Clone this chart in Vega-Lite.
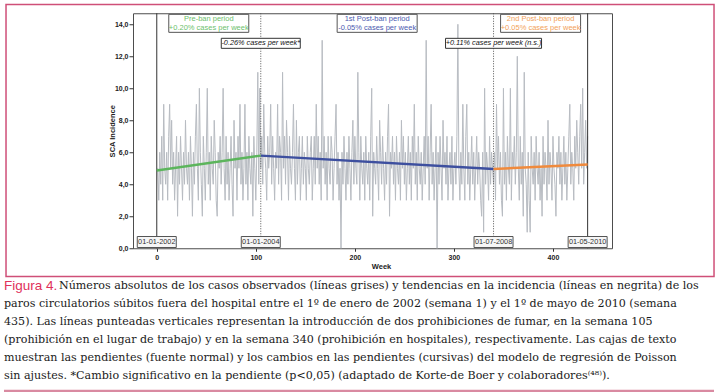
{
  "$schema": "https://vega.github.io/schema/vega-lite/v6.json",
  "background": "white",
  "padding": {"left": 2, "top": 3.25, "right": 0, "bottom": 0},
  "spacing": 0,
  "config": {
    "locale": {"number": {"decimal": ",", "thousands": ".", "grouping": [3], "currency": ["", " €"]}},
    "font": "Liberation Sans",
    "view": {"stroke": null},
    "axis": {"labelOverlap": false, "labelFlush": false}
  },
  "datasets": {
    "weekly": [
{"week":1,"cases":5},{"week":2,"cases":3},{"week":3,"cases":6},{"week":4,"cases":4},{"week":5,"cases":7},{"week":6,"cases":3},{"week":7,"cases":9},{"week":8,"cases":5},{"week":9,"cases":4},{"week":10,"cases":6},
{"week":11,"cases":3},{"week":12,"cases":7},{"week":13,"cases":9},{"week":14,"cases":5},{"week":15,"cases":8},{"week":16,"cases":4},{"week":17,"cases":6},{"week":18,"cases":3},{"week":19,"cases":5},{"week":20,"cases":7},
{"week":21,"cases":2},{"week":22,"cases":6},{"week":23,"cases":4},{"week":24,"cases":7},{"week":25,"cases":5},{"week":26,"cases":3},{"week":27,"cases":6},{"week":28,"cases":4},{"week":29,"cases":8},{"week":30,"cases":5},
{"week":31,"cases":4},{"week":32,"cases":6},{"week":33,"cases":3},{"week":34,"cases":7},{"week":35,"cases":5},{"week":36,"cases":2},{"week":37,"cases":6},{"week":38,"cases":4},{"week":39,"cases":7},{"week":40,"cases":9},
{"week":41,"cases":5},{"week":42,"cases":3},{"week":43,"cases":10},{"week":44,"cases":6},{"week":45,"cases":4},{"week":46,"cases":2},{"week":47,"cases":7},{"week":48,"cases":5},{"week":49,"cases":3},{"week":50,"cases":6},
{"week":51,"cases":10},{"week":52,"cases":4},{"week":53,"cases":6},{"week":54,"cases":3},{"week":55,"cases":7},{"week":56,"cases":5},{"week":57,"cases":4},{"week":58,"cases":8},{"week":59,"cases":6},{"week":60,"cases":3},
{"week":61,"cases":2},{"week":62,"cases":6},{"week":63,"cases":5},{"week":64,"cases":7},{"week":65,"cases":4},{"week":66,"cases":6},{"week":67,"cases":10},{"week":68,"cases":5},{"week":69,"cases":3},{"week":70,"cases":7},
{"week":71,"cases":4},{"week":72,"cases":6},{"week":73,"cases":3},{"week":74,"cases":5},{"week":75,"cases":7},{"week":76,"cases":4},{"week":77,"cases":2},{"week":78,"cases":8},{"week":79,"cases":5},{"week":80,"cases":6},
{"week":81,"cases":3},{"week":82,"cases":7},{"week":83,"cases":5},{"week":84,"cases":9},{"week":85,"cases":4},{"week":86,"cases":6},{"week":87,"cases":3},{"week":88,"cases":5},{"week":89,"cases":9},{"week":90,"cases":4},
{"week":91,"cases":6},{"week":92,"cases":3},{"week":93,"cases":7},{"week":94,"cases":5},{"week":95,"cases":4},{"week":96,"cases":6},{"week":97,"cases":2},{"week":98,"cases":7},{"week":99,"cases":5},{"week":100,"cases":3},
{"week":101,"cases":6},{"week":102,"cases":11},{"week":103,"cases":4},{"week":104,"cases":10},{"week":105,"cases":5},{"week":106,"cases":7},{"week":107,"cases":4},{"week":108,"cases":9},{"week":109,"cases":6},{"week":110,"cases":5},
{"week":111,"cases":3},{"week":112,"cases":7},{"week":113,"cases":5},{"week":114,"cases":6},{"week":115,"cases":9},{"week":116,"cases":4},{"week":117,"cases":7},{"week":118,"cases":5},{"week":119,"cases":3},{"week":120,"cases":6},
{"week":121,"cases":5},{"week":122,"cases":9},{"week":123,"cases":4},{"week":124,"cases":7},{"week":125,"cases":6},{"week":126,"cases":3},{"week":127,"cases":11},{"week":128,"cases":5},{"week":129,"cases":7},{"week":130,"cases":4},
{"week":131,"cases":8},{"week":132,"cases":6},{"week":133,"cases":3},{"week":134,"cases":7},{"week":135,"cases":5},{"week":136,"cases":4},{"week":137,"cases":6},{"week":138,"cases":9},{"week":139,"cases":5},{"week":140,"cases":3},
{"week":141,"cases":8},{"week":142,"cases":4},{"week":143,"cases":6},{"week":144,"cases":7},{"week":145,"cases":3},{"week":146,"cases":5},{"week":147,"cases":7},{"week":148,"cases":4},{"week":149,"cases":6},{"week":150,"cases":5},
{"week":151,"cases":3},{"week":152,"cases":7},{"week":153,"cases":5},{"week":154,"cases":4},{"week":155,"cases":6},{"week":156,"cases":7},{"week":157,"cases":3},{"week":158,"cases":5},{"week":159,"cases":7},{"week":160,"cases":4},
{"week":161,"cases":9},{"week":162,"cases":5},{"week":163,"cases":7},{"week":164,"cases":4},{"week":165,"cases":6},{"week":166,"cases":3},{"week":167,"cases":13},{"week":168,"cases":5},{"week":169,"cases":7},{"week":170,"cases":4},
{"week":171,"cases":6},{"week":172,"cases":3},{"week":173,"cases":7},{"week":174,"cases":5},{"week":175,"cases":4},{"week":176,"cases":7},{"week":177,"cases":6},{"week":178,"cases":3},{"week":179,"cases":5},{"week":180,"cases":7},
{"week":181,"cases":9},{"week":182,"cases":4},{"week":183,"cases":6},{"week":184,"cases":3},{"week":185,"cases":5},{"week":186,"cases":0},{"week":187,"cases":6},{"week":188,"cases":4},{"week":189,"cases":7},{"week":190,"cases":5},
{"week":191,"cases":3},{"week":192,"cases":6},{"week":193,"cases":4},{"week":194,"cases":7},{"week":195,"cases":5},{"week":196,"cases":3},{"week":197,"cases":6},{"week":198,"cases":8},{"week":199,"cases":4},{"week":200,"cases":7},
{"week":201,"cases":5},{"week":202,"cases":4},{"week":203,"cases":11},{"week":204,"cases":6},{"week":205,"cases":3},{"week":206,"cases":7},{"week":207,"cases":5},{"week":208,"cases":4},{"week":209,"cases":6},{"week":210,"cases":3},
{"week":211,"cases":7},{"week":212,"cases":5},{"week":213,"cases":4},{"week":214,"cases":6},{"week":215,"cases":3},{"week":216,"cases":7},{"week":217,"cases":10},{"week":218,"cases":2},{"week":219,"cases":6},{"week":220,"cases":5},
{"week":221,"cases":4},{"week":222,"cases":7},{"week":223,"cases":5},{"week":224,"cases":3},{"week":225,"cases":8},{"week":226,"cases":6},{"week":227,"cases":4},{"week":228,"cases":7},{"week":229,"cases":5},{"week":230,"cases":3},
{"week":231,"cases":6},{"week":232,"cases":4},{"week":233,"cases":7},{"week":234,"cases":9},{"week":235,"cases":2},{"week":236,"cases":6},{"week":237,"cases":5},{"week":238,"cases":7},{"week":239,"cases":4},{"week":240,"cases":6},
{"week":241,"cases":3},{"week":242,"cases":7},{"week":243,"cases":5},{"week":244,"cases":4},{"week":245,"cases":6},{"week":246,"cases":3},{"week":247,"cases":8},{"week":248,"cases":5},{"week":249,"cases":7},{"week":250,"cases":4},
{"week":251,"cases":6},{"week":252,"cases":3},{"week":253,"cases":5},{"week":254,"cases":7},{"week":255,"cases":4},{"week":256,"cases":6},{"week":257,"cases":3},{"week":258,"cases":7},{"week":259,"cases":5},{"week":260,"cases":9},
{"week":261,"cases":4},{"week":262,"cases":6},{"week":263,"cases":3},{"week":264,"cases":7},{"week":265,"cases":5},{"week":266,"cases":4},{"week":267,"cases":6},{"week":268,"cases":3},{"week":269,"cases":5},{"week":270,"cases":7},
{"week":271,"cases":4},{"week":272,"cases":13},{"week":273,"cases":5},{"week":274,"cases":7},{"week":275,"cases":3},{"week":276,"cases":6},{"week":277,"cases":9},{"week":278,"cases":4},{"week":279,"cases":6},{"week":280,"cases":3},
{"week":281,"cases":5},{"week":282,"cases":7},{"week":283,"cases":0},{"week":284,"cases":6},{"week":285,"cases":4},{"week":286,"cases":7},{"week":287,"cases":5},{"week":288,"cases":3},{"week":289,"cases":8},{"week":290,"cases":5},
{"week":291,"cases":6},{"week":292,"cases":4},{"week":293,"cases":7},{"week":294,"cases":3},{"week":295,"cases":5},{"week":296,"cases":6},{"week":297,"cases":4},{"week":298,"cases":7},{"week":299,"cases":3},{"week":300,"cases":5},
{"week":301,"cases":6},{"week":302,"cases":4},{"week":303,"cases":7},{"week":304,"cases":14},{"week":305,"cases":5},{"week":306,"cases":3},{"week":307,"cases":6},{"week":308,"cases":4},{"week":309,"cases":9},{"week":310,"cases":5},
{"week":311,"cases":3},{"week":312,"cases":7},{"week":313,"cases":9},{"week":314,"cases":4},{"week":315,"cases":6},{"week":316,"cases":3},{"week":317,"cases":5},{"week":318,"cases":7},{"week":319,"cases":4},{"week":320,"cases":6},
{"week":321,"cases":3},{"week":322,"cases":5},{"week":323,"cases":7},{"week":324,"cases":4},{"week":325,"cases":6},{"week":326,"cases":5},{"week":327,"cases":3},{"week":328,"cases":2},{"week":329,"cases":6},{"week":330,"cases":1},
{"week":331,"cases":10},{"week":332,"cases":4},{"week":333,"cases":6},{"week":334,"cases":5},{"week":335,"cases":3},{"week":336,"cases":7},{"week":337,"cases":4},{"week":338,"cases":6},{"week":339,"cases":5},{"week":340,"cases":4},
{"week":341,"cases":6},{"week":342,"cases":3},{"week":343,"cases":9},{"week":344,"cases":5},{"week":345,"cases":7},{"week":346,"cases":4},{"week":347,"cases":6},{"week":348,"cases":3},{"week":349,"cases":2},{"week":350,"cases":10},
{"week":351,"cases":4},{"week":352,"cases":6},{"week":353,"cases":3},{"week":354,"cases":7},{"week":355,"cases":5},{"week":356,"cases":4},{"week":357,"cases":10},{"week":358,"cases":3},{"week":359,"cases":6},{"week":360,"cases":5},
{"week":361,"cases":7},{"week":362,"cases":4},{"week":363,"cases":6},{"week":364,"cases":12},{"week":365,"cases":5},{"week":366,"cases":3},{"week":367,"cases":7},{"week":368,"cases":4},{"week":369,"cases":6},{"week":370,"cases":2},
{"week":371,"cases":11},{"week":372,"cases":5},{"week":373,"cases":4},{"week":374,"cases":1},{"week":375,"cases":6},{"week":376,"cases":3},{"week":377,"cases":1},{"week":378,"cases":7},{"week":379,"cases":5},{"week":380,"cases":4},
{"week":381,"cases":6},{"week":382,"cases":3},{"week":383,"cases":7},{"week":384,"cases":5},{"week":385,"cases":4},{"week":386,"cases":6},{"week":387,"cases":3},{"week":388,"cases":5},{"week":389,"cases":2},{"week":390,"cases":7},
{"week":391,"cases":4},{"week":392,"cases":6},{"week":393,"cases":5},{"week":394,"cases":3},{"week":395,"cases":8},{"week":396,"cases":4},{"week":397,"cases":6},{"week":398,"cases":5},{"week":399,"cases":3},{"week":400,"cases":7},
{"week":401,"cases":5},{"week":402,"cases":4},{"week":403,"cases":2},{"week":404,"cases":6},{"week":405,"cases":5},{"week":406,"cases":7},{"week":407,"cases":4},{"week":408,"cases":6},{"week":409,"cases":3},{"week":410,"cases":5},
{"week":411,"cases":7},{"week":412,"cases":4},{"week":413,"cases":6},{"week":414,"cases":3},{"week":415,"cases":5},{"week":416,"cases":7},{"week":417,"cases":9},{"week":418,"cases":4},{"week":419,"cases":6},{"week":420,"cases":5},
{"week":421,"cases":3},{"week":422,"cases":7},{"week":423,"cases":5},{"week":424,"cases":8},{"week":425,"cases":6},{"week":426,"cases":4},{"week":427,"cases":7},{"week":428,"cases":9},{"week":429,"cases":5},{"week":430,"cases":10},
{"week":431,"cases":4},{"week":432,"cases":6},{"week":433,"cases":8},{"week":434,"cases":5},{"week":435,"cases":7}
    ],
    "trend": [
      {"period": "Pre-ban", "week": 0, "rate": 4.86},
      {"period": "Pre-ban", "week": 105, "rate": 5.79},
      {"period": "1st post-ban", "week": 105, "rate": 5.79},
      {"period": "1st post-ban", "week": 340, "rate": 4.96},
      {"period": "2nd post-ban", "week": 340, "rate": 4.96},
      {"period": "2nd post-ban", "week": 435, "rate": 5.23}
    ],
    "periods": [
      {"period": "Pre-ban", "title": "Pre-ban period", "slope": "+0.20% cases per week", "mid": 52.5},
      {"period": "1st post-ban", "title": "1st Post-ban period", "slope": "-0.05% cases per week", "mid": 222.5},
      {"period": "2nd post-ban", "title": "2nd Post-ban period", "slope": "+0.05% cases per week", "mid": 387.5}
    ],
    "events": [
      {"week": 0, "date": "01-01-2002", "kind": "boundary"},
      {"week": 105, "date": "01-01-2004", "kind": "ban"},
      {"week": 340, "date": "01-07-2008", "kind": "ban"},
      {"week": 435, "date": "01-05-2010", "kind": "boundary"}
    ],
    "changes": [
      {"week": 105, "label": "-0.26% cases per week*"},
      {"week": 340, "label": "+0.11% cases per week (n.s.)"}
    ],
    "caption": [
      {"line": 1, "part": "label", "text": "Figura 4."},
      {"line": 1, "part": "first", "text": "Números absolutos de los casos observados (líneas grises) y tendencias en la incidencia (líneas en negrita) de los"},
      {"line": 2, "part": "body", "text": "paros circulatorios súbitos fuera del hospital entre el 1º de enero de 2002 (semana 1) y el 1º de mayo de 2010 (semana"},
      {"line": 3, "part": "body", "text": "435). Las líneas punteadas verticales representan la introducción de dos prohibiciones de fumar, en la semana 105"},
      {"line": 4, "part": "body", "text": "(prohibición en el lugar de trabajo) y en la semana 340 (prohibición en hospitales), respectivamente. Las cajas de texto"},
      {"line": 5, "part": "body", "text": "muestran las pendientes (fuente normal) y los cambios en las pendientes (cursivas) del modelo de regresión de Poisson"},
      {"line": 6, "part": "body", "text": "sin ajustes. *Cambio significativo en la pendiente (p<0,05) (adaptado de Korte-de Boer y colaboradores⁽⁴⁸⁾)."}
    ],
    "one": [{}]
  },
  "vconcat": [
    {
      "width": 479,
      "height": 235,
      "view": {"stroke": "#4d4d4d", "strokeWidth": 1},
      "resolve": {"axis": {"x": "independent", "y": "independent"}},
      "layer": [
        {
          "data": {"name": "weekly"},
          "mark": {"type": "line", "color": "#b8bcc2", "strokeWidth": 1},
          "encoding": {
            "x": {"field": "week", "type": "quantitative",
              "scale": {"domain": [-24, 459.6], "nice": false, "zero": false},
              "axis": {"values": [0, 100, 200, 300, 400], "title": "Week", "titleX": 248, "grid": false, "domain": false,
                "tickSize": 3, "tickColor": "#333", "labelFontSize": 7, "labelFontWeight": "bold", "labelColor": "#222",
                "labelPadding": 2, "titleFontSize": 7.5, "titleFontWeight": "bold", "titleColor": "#222", "titlePadding": 2}},
            "y": {"field": "cases", "type": "quantitative",
              "scale": {"domain": [0, 14.69], "nice": false, "zero": false},
              "axis": {"values": [0, 2, 4, 6, 8, 10, 12, 14], "format": ".1f", "title": "SCA Incidence", "grid": false, "domain": false,
                "labelOverlap": false,
                "tickSize": 4, "tickColor": "#333", "labelFontSize": 7, "labelFontWeight": "bold", "labelColor": "#222",
                "labelPadding": 1, "titleFontSize": 7.5, "titleFontWeight": "bold", "titleColor": "#222", "titlePadding": -2}}
          }
        },
        {
          "data": {"name": "one"},
          "mark": {"type": "rect", "filled": false, "color": "#cf4f78", "strokeWidth": 1.5},
          "encoding": {
            "x": {"datum": -152.2, "type": "quantitative", "axis": null},
            "x2": {"datum": 562.6},
            "y": {"datum": 15.23, "type": "quantitative", "axis": null},
            "y2": {"datum": -1.77}
          }
        },
        {
          "data": {"name": "events"},
          "transform": [{"filter": "datum.kind == 'boundary'"}],
          "mark": {"type": "rule", "color": "#333333", "strokeWidth": 1},
          "encoding": {"x": {"field": "week", "type": "quantitative", "axis": null}}
        },
        {
          "data": {"name": "events"},
          "transform": [{"filter": "datum.kind == 'ban'"}],
          "mark": {"type": "rule", "color": "#555555", "strokeWidth": 1, "strokeDash": [1, 1.5]},
          "encoding": {"x": {"field": "week", "type": "quantitative", "axis": null}}
        },
        {
          "data": {"name": "trend"},
          "mark": {"type": "line", "strokeWidth": 2.5},
          "encoding": {
            "x": {"field": "week", "type": "quantitative", "axis": null},
            "y": {"field": "rate", "type": "quantitative", "axis": null},
            "stroke": {"field": "period", "type": "nominal",
              "scale": {"domain": ["Pre-ban", "1st post-ban", "2nd post-ban"], "range": ["#5cb55c", "#3d4f9f", "#f08a3c"]},
              "legend": null}
          }
        },
        {
          "data": {"name": "periods"},
          "mark": {"type": "point", "shape": "M-1,-0.225H1V0.225H-1Z", "size": 6400, "filled": true, "fill": "#ffffff", "stroke": "#555555", "strokeWidth": 1, "opacity": 1},
          "encoding": {
            "x": {"field": "mid", "type": "quantitative", "axis": null},
            "y": {"datum": 14.06, "type": "quantitative", "axis": null}
          }
        },
        {
          "data": {"name": "periods"},
          "mark": {"type": "text", "fontSize": 7.5, "baseline": "middle", "dy": -4.5},
          "encoding": {
            "x": {"field": "mid", "type": "quantitative", "axis": null},
            "y": {"datum": 14.06, "type": "quantitative", "axis": null},
            "text": {"field": "title"},
            "fill": {"field": "period", "type": "nominal",
              "scale": {"domain": ["Pre-ban", "1st post-ban", "2nd post-ban"], "range": ["#6dbf6d", "#4b5ab0", "#f2a25a"]},
              "legend": null}
          }
        },
        {
          "data": {"name": "periods"},
          "mark": {"type": "text", "fontSize": 7.5, "baseline": "middle", "dy": 4.5},
          "encoding": {
            "x": {"field": "mid", "type": "quantitative", "axis": null},
            "y": {"datum": 14.06, "type": "quantitative", "axis": null},
            "text": {"field": "slope"},
            "fill": {"field": "period", "type": "nominal", "legend": null}
          }
        },
        {
          "data": {"name": "changes"},
          "transform": [{"filter": "datum.week == 105"}],
          "mark": {"type": "point", "shape": "M-1,-0.127H1V0.127H-1Z", "size": 6241, "filled": true, "fill": "#ffffff", "stroke": "#333333", "strokeWidth": 1, "opacity": 1},
          "encoding": {
            "x": {"field": "week", "type": "quantitative", "axis": null},
            "y": {"datum": 12.81, "type": "quantitative", "axis": null}
          }
        },
        {
          "data": {"name": "changes"},
          "transform": [{"filter": "datum.week == 340"}],
          "mark": {"type": "point", "shape": "M-1,-0.104H1V0.104H-1Z", "size": 9216, "filled": true, "fill": "#ffffff", "stroke": "#333333", "strokeWidth": 1, "opacity": 1},
          "encoding": {
            "x": {"field": "week", "type": "quantitative", "axis": null},
            "y": {"datum": 12.81, "type": "quantitative", "axis": null}
          }
        },
        {
          "data": {"name": "changes"},
          "mark": {"type": "text", "fontSize": 7.3, "fontStyle": "italic", "baseline": "middle", "color": "#111111"},
          "encoding": {
            "x": {"field": "week", "type": "quantitative", "axis": null},
            "y": {"datum": 12.81, "type": "quantitative", "axis": null},
            "text": {"field": "label"}
          }
        },
        {
          "data": {"name": "events"},
          "mark": {"type": "point", "shape": "M-1,-0.282H1V0.282H-1Z", "size": 1521, "filled": true, "fill": "#f6f6f6", "stroke": "#555555", "strokeWidth": 1, "opacity": 1},
          "encoding": {
            "x": {"field": "week", "type": "quantitative", "axis": null},
            "y": {"datum": 0.39, "type": "quantitative", "axis": null}
          }
        },
        {
          "data": {"name": "events"},
          "mark": {"type": "text", "fontSize": 7.3, "baseline": "middle", "color": "#333333"},
          "encoding": {
            "x": {"field": "week", "type": "quantitative", "axis": null},
            "y": {"datum": 0.39, "type": "quantitative", "axis": null},
            "text": {"field": "date"}
          }
        }
      ]
    },
    {
      "width": 581,
      "height": 115.2,
      "view": {"stroke": null},
      "layer": [
        {
          "data": {"name": "one"},
          "mark": {"type": "rule", "color": "#d98aa1", "strokeWidth": 3},
          "encoding": {
            "x": {"datum": 0, "type": "quantitative", "scale": {"domain": [0.1817, 1], "nice": false, "zero": false}, "axis": null},
            "x2": {"datum": 1},
            "y": {"datum": 6.84, "type": "quantitative", "scale": {"domain": [0.67, 7.07], "nice": false, "zero": false, "reverse": true}, "axis": null}
          }
        },
        {
          "data": {"name": "caption"},
          "transform": [{"filter": "datum.part == 'label'"}],
          "mark": {"type": "text", "align": "left", "baseline": "middle", "font": "Liberation Sans", "fontSize": 13.5, "color": "#e0305a"},
          "encoding": {
            "x": {"datum": 0, "type": "quantitative"},
            "y": {"field": "line", "type": "quantitative"},
            "text": {"field": "text"}
          }
        },
        {
          "data": {"name": "caption"},
          "transform": [{"filter": "datum.part == 'first'"}],
          "mark": {"type": "text", "align": "left", "baseline": "middle", "font": "DejaVu Serif", "fontSize": 11.1, "color": "#1a1a1a", "dx": 55},
          "encoding": {
            "x": {"datum": 0, "type": "quantitative"},
            "y": {"field": "line", "type": "quantitative"},
            "text": {"field": "text"}
          }
        },
        {
          "data": {"name": "caption"},
          "transform": [{"filter": "datum.part == 'body'"}],
          "mark": {"type": "text", "align": "left", "baseline": "middle", "font": "DejaVu Serif", "fontSize": 11.1, "color": "#1a1a1a"},
          "encoding": {
            "x": {"datum": 0, "type": "quantitative"},
            "y": {"field": "line", "type": "quantitative"},
            "text": {"field": "text"}
          }
        }
      ]
    }
  ]
}
